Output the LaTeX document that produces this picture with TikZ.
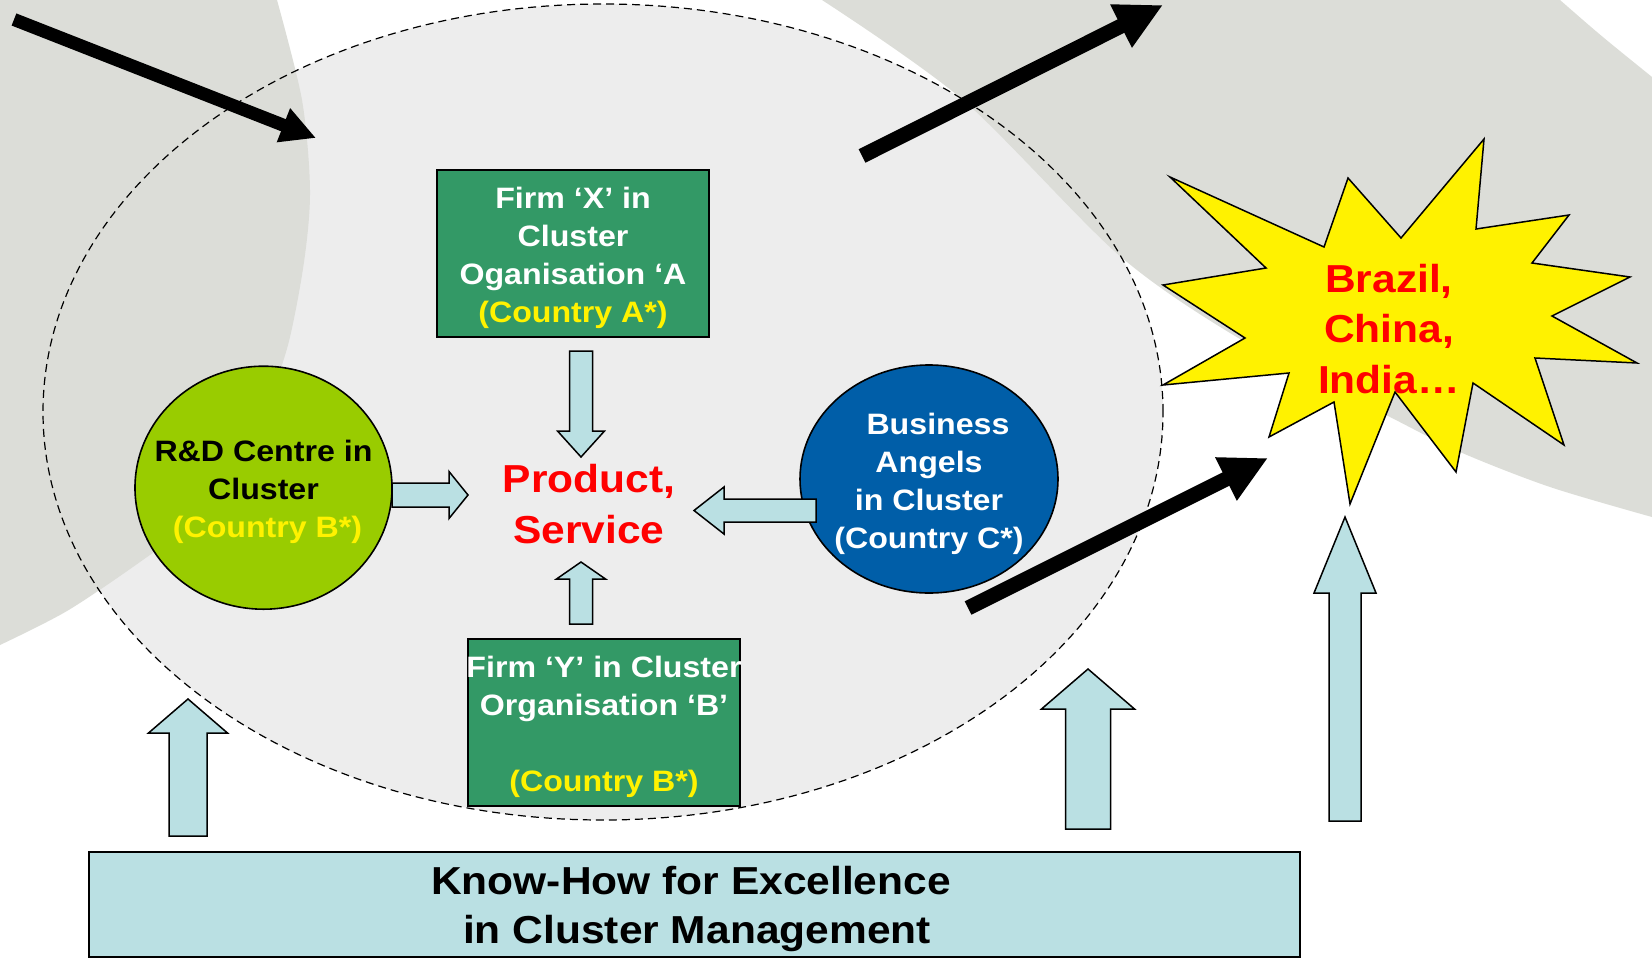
\documentclass[tikz,border=0pt]{standalone}
\usepackage{xcolor}
\usepackage{fontspec}
\setmainfont[FakeStretch=1.09]{Liberation Sans}
\usepackage{tikz}
\usetikzlibrary{calc,arrows.meta,shapes.geometric,positioning}

\definecolor{swoosh}{RGB}{220,221,216}
\definecolor{clusterbg}{RGB}{237,237,237}
\definecolor{firmgreen}{RGB}{51,153,102}
\definecolor{rndgreen}{RGB}{153,204,0}
\definecolor{angelblue}{RGB}{0,94,168}
\definecolor{paleblue}{RGB}{186,224,227}

\newcommand{\smalltxt}{\fontsize{14.75}{19}\selectfont\bfseries}
\newcommand{\bigtxt}{\fontsize{19.5}{25.4}\selectfont\bfseries}

\tikzset{
	firmbox/.style={draw=black, line width=1pt, fill=firmgreen, inner sep=0pt, minimum width=136pt, minimum height=83.5pt},
	firmtext/.style={text=white, font=\smalltxt, align=center, inner sep=0pt},
	blob/.style={draw=black, line width=0.8pt, ellipse, inner sep=0pt},
	blockarrow/.style={draw=black, line width=0.75pt, fill=paleblue, line join=miter},
	fatarrow/.style={line width=#1, draw=black},
	clusterline/.style={draw=black, line width=0.6pt, dash pattern=on 4pt off 2.5pt},
}

\begin{document}
\begin{tikzpicture}[x=0.5pt,y=-0.5pt]

\def\BLOCKARROW(#1)(#2)#3#4#5{%
	\coordinate (ba s) at (#1); % tail
	\coordinate (ba t) at (#2); % tip
	\coordinate (ba h) at ($(ba t)!{#5*0.5pt}!(ba s)$); % base of the head
	\draw[blockarrow] ($(ba s)!{#3*0.25pt}!90:(ba t)$) -- ($(ba h)!{#3*0.25pt}!90:(ba t)$)
		-- ($(ba h)!{#4*0.25pt}!90:(ba t)$) -- (ba t) -- ($(ba h)!{#4*0.25pt}!-90:(ba t)$)
		-- ($(ba h)!{#3*0.25pt}!-90:(ba t)$) -- ($(ba s)!{#3*0.25pt}!-90:(ba t)$) -- cycle;
}

\fill[white] (0,0) rectangle (1652,958);
\useasboundingbox (0,0) rectangle (1652,958);

\begin{scope}
\clip (0,0) rectangle (1652,958);
\fill[clusterbg] (603,412) ellipse [x radius=280pt, y radius=204pt]; % the cluster
\fill[swoosh] (0,0) -- plot[smooth] coordinates {(277,0) (302,100) (310,190) (304,262) (288,345) (265,408) (230,470) (195,520) (140,562) (67,611) (0,645)} -- cycle; % left swoosh
\fill[swoosh] (1560,0) .. controls (1600,35) .. (1652,77) -- (1652,517) -- plot[smooth] coordinates {(1652,517) (1550,487) (1460,452) (1390,417) (1250,345) (1121,257) (963,100) (822,0)} -- cycle; % right swoosh
\draw[clusterline] (603,412) ellipse [x radius=280pt, y radius=204pt];

\coordinate (inflow) at (14,19.5);
\coordinate (inflow tip) at (316,138);
\coordinate (outflow) at (862,156);
\coordinate (outflow tip) at (1163,5);
\coordinate (export) at (968,608);
\coordinate (export tip) at (1268,458);
\draw[fatarrow=6.5pt, -{Triangle[width=17pt,length=17.5pt]}] (inflow) -- (inflow tip);
\draw[fatarrow=7.5pt, -{Triangle[width=22.5pt,length=23.5pt]}] (outflow) -- (outflow tip);
\draw[fatarrow=7.5pt, -{Triangle[width=22.5pt,length=23.5pt]}] (export) -- (export tip);
\end{scope}

% the star
\draw[line width=0.75pt, fill=yellow, line join=miter] (1170,177) -- (1324,247) -- (1348,178) -- (1401,238) -- (1484,139) -- (1476,229)
	-- (1569,215) -- (1532,263) -- (1630,277) -- (1552,316) -- (1637,363) -- (1535,358) -- (1564,445) -- (1473,383)
	-- (1456,472) -- (1395,392) -- (1350,504) -- (1334,402) -- (1269,437) -- (1289,373) -- (1163,385) -- (1245,338)
	-- (1163,285) -- (1266,268) -- cycle;
\node[font=\bigtxt, text=red, align=center] (markets) at (1389,329) {Brazil,\\China,\\India…};

% actors in the cluster
\node[firmbox] (firmX) at (573,253.5) {};
\node[firmtext] (firmX text) at (573,258) {Firm ‘X’ in\\Cluster\\Oganisation ‘A\\\textcolor{yellow}{(Country A*)}};
\node[firmbox] (firmY) at (604,722) {};
\node[firmtext] (firmY text) at (604,726.5) {Firm ‘Y’ in Cluster\\Organisation ‘B’\\[19pt]\textcolor{yellow}{(Country B*)}};
\node[blob, fill=rndgreen, minimum width=128.5pt, minimum height=121.5pt] (rnd) at (263.5,487.7) {};
\node[font=\smalltxt, align=center] (rnd text) at (263.5,491.5) {R\&D Centre in\\Cluster\\\hspace*{4pt}\textcolor{yellow}{(Country B*)}};
\node[blob, fill=angelblue, minimum width=129pt, minimum height=114pt] (angels) at (929,479) {};
\node[font=\smalltxt, text=white, align=center] (angels text) at (929,484) {\hspace*{9pt}Business\\Angels\\in Cluster\\(Country C*)};
\node[font=\bigtxt, text=red, align=center] (product) at (589,504) {Product,\\Service};

% know-how
\node[draw=black, line width=1pt, fill=paleblue, inner sep=0pt, minimum width=605.5pt, minimum height=52.5pt] (knowhow) at (694.5,904.5) {};
\node[font=\fontsize{19.5}{24.6}\selectfont\bfseries, align=center] (knowhow text) at (691,909) {Know-How for Excellence\\\hspace*{6pt}in Cluster Management};

% arrow ends
\coordinate (fx out) at (581,351);
\coordinate (fx in) at (581,457);
\coordinate (rnd out) at (392,495);
\coordinate (rnd in) at (468,495);
\coordinate (ang out) at (816,510.5);
\coordinate (ang in) at (694,510.5);
\coordinate (fy out) at (581,624);
\coordinate (fy in) at (581,562);
\coordinate (kh left) at (188,836);
\coordinate (clus left) at (188,699);
\coordinate (kh mid) at (1088,829);
\coordinate (clus mid) at (1088,669);
\coordinate (kh right) at (1345,821);
\coordinate (star in) at (1345,517);

\BLOCKARROW(fx out)(fx in){23}{47}{26} % firm X to product
\BLOCKARROW(rnd out)(rnd in){24}{47}{19} % R&D to product
\BLOCKARROW(ang out)(ang in){23}{47}{30} % angels to product
\BLOCKARROW(fy out)(fy in){23}{49}{17} % firm Y to product
\BLOCKARROW(kh left)(clus left){38}{79}{34} % know-how into cluster
\BLOCKARROW(kh mid)(clus mid){45}{93}{40}
\BLOCKARROW(kh right)(star in){32}{62}{76} % know-how to markets

\end{tikzpicture}
\end{document}
